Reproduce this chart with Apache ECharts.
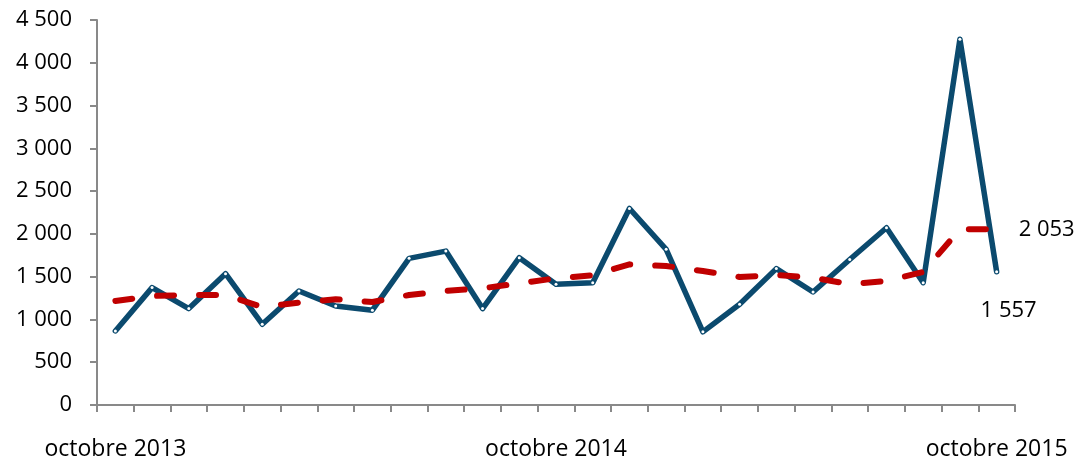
<!DOCTYPE html>
<html><head><meta charset="utf-8">
<script src="https://cdn.jsdelivr.net/npm/echarts@6/dist/echarts.min.js"></script>
<style>html,body{margin:0;padding:0;background:#fff}#c{width:1079px;height:461px}</style>
</head><body><div id="c"></div>
<script>
const categories = ['octobre 2013','novembre 2013','décembre 2013','janvier 2014','février 2014','mars 2014','avril 2014','mai 2014','juin 2014','juillet 2014','août 2014','septembre 2014','octobre 2014','novembre 2014','décembre 2014','janvier 2015','février 2015','mars 2015','avril 2015','mai 2015','juin 2015','juillet 2015','août 2015','septembre 2015','octobre 2015'];
const monthly = [866,1372,1127,1535,944,1333,1158,1108,1714,1799,1127,1722,1411,1430,2297,1819,855,1178,1594,1321,1700,2072,1430,4276,1557];
const trend = [1216,1274,1286,1286,1146,1197,1236,1204,1286,1333,1364,1422,1481,1516,1644,1624,1566,1496,1519,1489,1411,1450,1555,2053,2053];
const shownLabels = [0,12,24];
const yTicks = {min:0,max:4500,interval:500};

const fmt = v => String(v).replace(/\B(?=(\d{3})+(?!\d))/g,' ');
const FONT = 'Open Sans';
const chart = echarts.init(document.getElementById('c'));
const last = categories.length-1;
chart.setOption({
  animation:false,
  grid:{left:97,right:64,top:20,bottom:55,containLabel:false},
  xAxis:{type:'category',data:categories,boundaryGap:true,
    axisLine:{lineStyle:{color:'#898989',width:2}},
    axisTick:{show:true,interval:0,length:7,lineStyle:{color:'#898989',width:2}},
    axisLabel:{interval:(i)=>shownLabels.includes(i),margin:33,color:'#000',fontSize:23,fontFamily:FONT}
  },
  yAxis:{type:'value',min:yTicks.min,max:yTicks.max,interval:yTicks.interval,
    axisLine:{show:true,lineStyle:{color:'#898989',width:2}},
    axisTick:{show:true,length:7,lineStyle:{color:'#898989',width:2}},
    splitLine:{show:false},
    axisLabel:{margin:25,color:'#000',fontSize:22,fontFamily:FONT,formatter:fmt}
  },
  series:[
    {type:'line',data:monthly,symbol:'circle',symbolSize:3,showSymbol:true,z:2,
      itemStyle:{color:'#ffffff',borderWidth:0},
      lineStyle:{color:'#0B4A6E',width:5.5,cap:'round',join:'round'},
      label:{show:true,formatter:p=>p.dataIndex===last?fmt(p.value):'',position:'bottom',distance:26,offset:[12,0],color:'#000',fontSize:22,fontFamily:FONT}
    },
    {type:'line',data:trend,symbol:'none',z:3,
      lineStyle:{color:'#C00000',width:6,type:[17,25],cap:'round'},
      endLabel:{show:true,formatter:p=>fmt(p.value),distance:22,color:'#000',fontSize:22,fontFamily:FONT}
    }
  ]
});
</script></body></html>
